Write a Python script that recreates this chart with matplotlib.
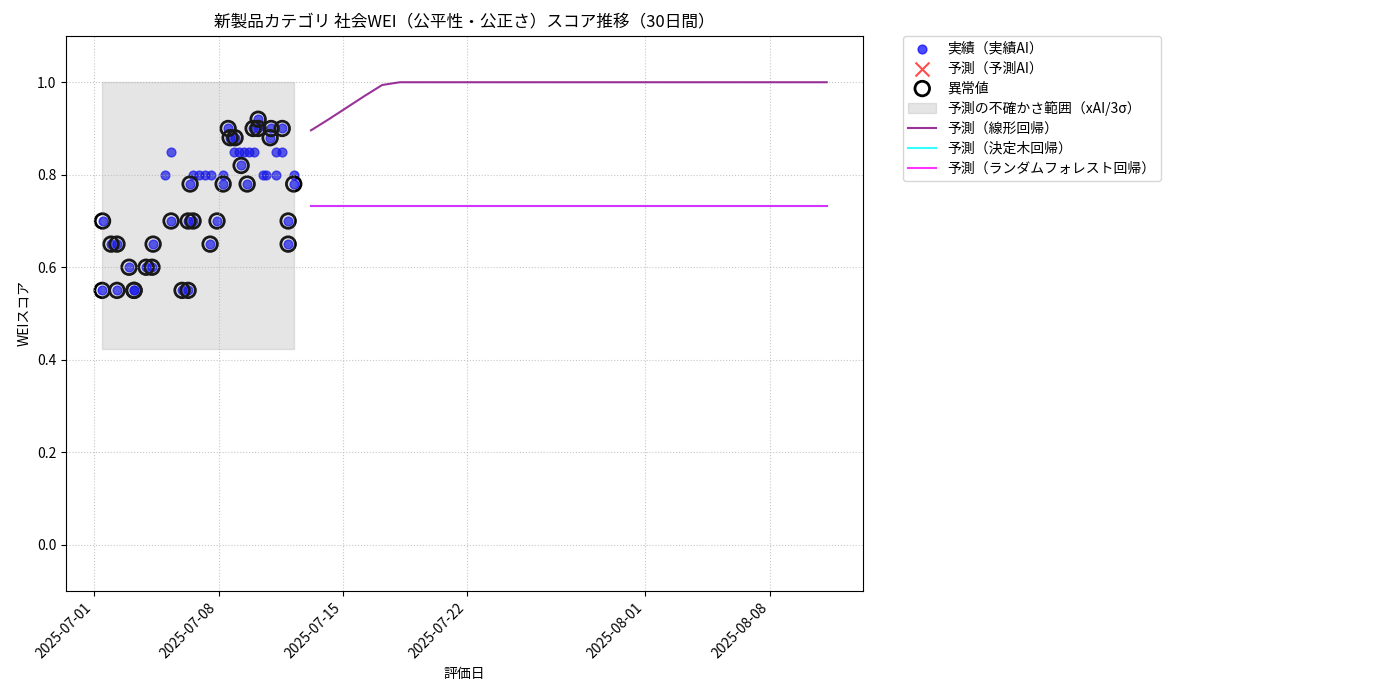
import pandas as pd
import matplotlib
matplotlib.use("Agg")
from matplotlib import pyplot as plt

plt.rcParams['font.family'] = ['Noto Sans CJK JP', 'DejaVu Sans']

# 実績データ (評価日, スコア, 異常値フラグ)
dates_actual = [
    "2025-07-01 11:00", "2025-07-01 11:30", "2025-07-01 23:00", "2025-07-02 07:00",
    "2025-07-02 07:00", "2025-07-02 23:15", "2025-07-03 06:00", "2025-07-03 06:00",
    "2025-07-03 22:15", "2025-07-04 06:15", "2025-07-04 07:45", "2025-07-05 00:00",
    "2025-07-05 08:00", "2025-07-05 08:00", "2025-07-05 22:50", "2025-07-06 07:00",
    "2025-07-06 07:00", "2025-07-06 09:40", "2025-07-06 13:40", "2025-07-06 13:40",
    "2025-07-06 21:50", "2025-07-07 06:00", "2025-07-07 12:40", "2025-07-07 14:00",
    "2025-07-07 22:00", "2025-07-08 06:15", "2025-07-08 06:15", "2025-07-08 13:00",
    "2025-07-08 15:40", "2025-07-08 21:00", "2025-07-08 22:20", "2025-07-09 03:50",
    "2025-07-09 06:30", "2025-07-09 10:30", "2025-07-09 14:40", "2025-07-09 17:20",
    "2025-07-09 22:45", "2025-07-10 00:00", "2025-07-10 05:30", "2025-07-10 05:30",
    "2025-07-10 12:15", "2025-07-10 16:20", "2025-07-10 21:40", "2025-07-10 23:00",
    "2025-07-11 05:45", "2025-07-11 05:45", "2025-07-11 14:00", "2025-07-11 14:00",
    "2025-07-11 22:00", "2025-07-11 22:00", "2025-07-12 05:30", "2025-07-12 05:30",
]
wei_actual = [
    0.55, 0.70, 0.65, 0.65,
    0.55, 0.60, 0.55, 0.55,
    0.60, 0.60, 0.65, 0.80,
    0.70, 0.85, 0.55, 0.55,
    0.70, 0.78, 0.70, 0.80,
    0.80, 0.80, 0.65, 0.80,
    0.70, 0.78, 0.80, 0.90,
    0.88, 0.85, 0.88, 0.85,
    0.82, 0.85, 0.78, 0.85,
    0.90, 0.85, 0.90, 0.92,
    0.80, 0.80, 0.88, 0.90,
    0.85, 0.80, 0.90, 0.85,
    0.70, 0.65, 0.78, 0.80,
]
is_anomaly = [
    1, 1, 1, 1,
    1, 1, 1, 1,
    1, 1, 1, 0,
    1, 0, 1, 1,
    1, 1, 1, 0,
    0, 0, 1, 0,
    1, 1, 0, 1,
    1, 0, 1, 0,
    1, 0, 1, 0,
    1, 0, 1, 1,
    0, 0, 1, 1,
    0, 0, 1, 0,
    1, 1, 1, 0,
]

# 不確かさ範囲 (xAI / 3σ)
band_lower = 0.423
band_upper = 1.0

# 予測 (30日間)
pred_start = "2025-07-13 04:50"
pred_linear = [0.896, 0.920, 0.945, 0.970, 0.994, 1.0, 1.0, 1.0, 1.0, 1.0,
               1.0, 1.0, 1.0, 1.0, 1.0, 1.0, 1.0, 1.0, 1.0, 1.0,
               1.0, 1.0, 1.0, 1.0, 1.0, 1.0, 1.0, 1.0, 1.0, 1.0]
pred_tree = [0.733, 0.733, 0.733, 0.733, 0.733, 0.733, 0.733, 0.733, 0.733, 0.733,
             0.733, 0.733, 0.733, 0.733, 0.733, 0.733, 0.733, 0.733, 0.733, 0.733,
             0.733, 0.733, 0.733, 0.733, 0.733, 0.733, 0.733, 0.733, 0.733, 0.733]
pred_rf = [0.733, 0.733, 0.733, 0.733, 0.733, 0.733, 0.733, 0.733, 0.733, 0.733,
           0.733, 0.733, 0.733, 0.733, 0.733, 0.733, 0.733, 0.733, 0.733, 0.733,
           0.733, 0.733, 0.733, 0.733, 0.733, 0.733, 0.733, 0.733, 0.733, 0.733]

df = pd.DataFrame({"date": pd.to_datetime(dates_actual), "wei": wei_actual, "anomaly": is_anomaly})
anom = df[df["anomaly"] == 1]
pred_dates = pd.date_range(pred_start, periods=len(pred_linear), freq="D")

fig, ax = plt.subplots(figsize=(14, 7), dpi=100)
fig.subplots_adjust(left=0.0471, right=0.6164, top=0.9486, bottom=0.1557)

ax.scatter(df["date"], df["wei"], color="blue", alpha=0.7, s=40, label="実績（実績AI）")
ax.scatter([], [], color="red", marker="x", alpha=0.7, s=100, label="予測（予測AI）")
ax.scatter(anom["date"], anom["wei"], facecolors="none", edgecolors="black",
           s=110, linewidths=2, label="異常値")
ax.fill_between([df["date"].min(), df["date"].max()], band_lower, band_upper,
                color="gray", alpha=0.2, label="予測の不確かさ範囲（xAI/3σ）")

ax.plot(pred_dates, pred_linear, color="purple", alpha=0.8, lw=1.5, label="予測（線形回帰）")
ax.plot(pred_dates, pred_tree, color="cyan", alpha=0.8, lw=1.5, label="予測（決定木回帰）")
ax.plot(pred_dates, pred_rf, color="magenta", alpha=0.8, lw=1.5, label="予測（ランダムフォレスト回帰）")

ax.set_ylim(-0.1, 1.1)
ax.set_title("新製品カテゴリ 社会WEI（公平性・公正さ）スコア推移（30日間）", fontsize=12)
ax.set_xlabel("評価日")
ax.set_ylabel("WEIスコア")
ax.grid(True, linestyle=":", alpha=0.7)
plt.setp(ax.get_xticklabels(), rotation=45, ha="right")
ax.legend(loc="upper left", bbox_to_anchor=(1.05, 1), borderaxespad=0., labelspacing=0.42)

fig.savefig("out.png")
